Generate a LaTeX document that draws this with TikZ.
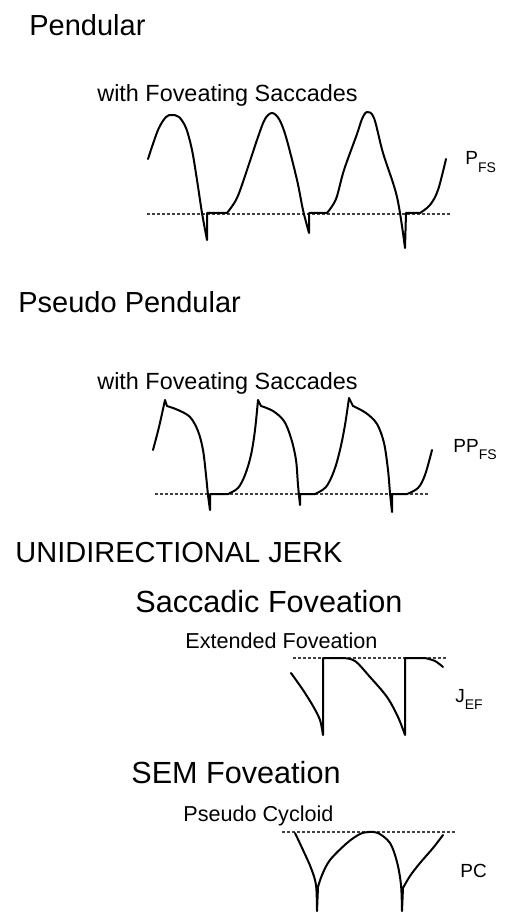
\documentclass[tikz,border=0pt]{standalone}
\usepackage{fontspec}
\setmainfont{Liberation Sans}
\usetikzlibrary{positioning}

\newcommand{\lowsub}[1]{\raisebox{-0.7ex}{\fontsize{7pt}{8pt}\selectfont #1}}

\begin{document}
\begin{tikzpicture}[
    x=0.5pt, y=-0.5pt,
    heading/.style={anchor=base west, inner sep=0pt, font=\fontsize{14.5pt}{16pt}\selectfont},
    subhead/.style={anchor=base west, inner sep=0pt, font=\fontsize{15.3pt}{17pt}\selectfont},
    caption/.style={anchor=base west, inner sep=0pt, font=\fontsize{11.7pt}{13pt}\selectfont},
    smallcap/.style={anchor=base west, inner sep=0pt, font=\fontsize{10.8pt}{12pt}\selectfont},
    tag/.style={anchor=base west, inner sep=0pt, font=\fontsize{9.5pt}{11pt}\selectfont},
    trace/.style={line width=1pt, line join=round, line cap=round},
    level/.style={line width=0.55pt, dash pattern=on 1.5pt off 1pt, black!75},
]
\useasboundingbox (0,0) rectangle (508,914);

%% TEXTS
    % pendular
    \node[heading] (pendular) at (29,36) {Pendular};
    \node[caption] (pend_fs) at (97,102) {with Foveating Saccades};
    \node[tag] (pfs) at (465,165) {P\lowsub{FS}};

    % pseudo pendular
    \node[heading] (pseudo_pendular) at (18,313) {Pseudo Pendular};
    \node[caption] (ppend_fs) at (97,389) {with Foveating Saccades};
    \node[tag] (ppfs) at (453,452) {PP\lowsub{FS}};

    % jerk
    \node[heading] (uni_jerk) at (15,562) {UNIDIRECTIONAL JERK};
    \node[subhead] (saccadic_fov) at (135,612) {Saccadic Foveation};
    \node[smallcap] (extended_fov) at (185,648) {Extended Foveation};
    \node[tag] (jef) at (455,702) {J\lowsub{EF}};

    \node[subhead] (sem_fov) at (131,783) {SEM Foveation};
    \node[smallcap] (pseudo_cycloid) at (183,821) {Pseudo Cycloid};
    \node[tag] (pc) at (460,877) {PC};

%% TRACES
    % pendular with foveating saccades
    \draw[level] (147,214) -- (452,214);
    \draw[trace] plot[smooth, tension=0.55] coordinates {(148,159) (158,130) (166,117) (172,115) (179,117) (186,128) (192,150) (197,180) (202,213) (207,240)}
        -- (207,213) -- (227,213)
        -- plot[smooth, tension=0.55] coordinates {(227,213) (237,198) (247,170) (258,137) (265,119) (272,113) (279,119) (286,137) (297,180) (303,210) (309,233)}
        -- (309,213) -- (327,213)
        -- plot[smooth, tension=0.55] coordinates {(327,213) (336,199) (344,170) (357,134) (362,119) (367,112) (374,118) (383,153) (397,197) (405,248)}
        -- (406,213) -- (420,213)
        -- plot[smooth, tension=0.55] coordinates {(420,213) (430,205) (438,190) (446,159)};

    % pseudo pendular with foveating saccades
    \draw[level] (155,494) -- (428,494);
    \draw[trace] plot[smooth, tension=0.55] coordinates {(153,450) (159,427) (165,400)}
        -- plot[smooth, tension=0.55] coordinates {(167,406) (178,410) (190,417) (198,431) (203,450) (206,475) (208,495) (210,510)}
        -- (210,494) -- (228,494)
        -- plot[smooth, tension=0.55] coordinates {(228,494) (238,488) (245,475) (251,455) (255,430) (258,400)}
        -- plot[smooth, tension=0.55] coordinates {(261,406) (273,411) (284,421) (291,438) (296,460) (298,485) (300,505)}
        -- (300,494) -- (315,494)
        -- plot[smooth, tension=0.55] coordinates {(315,494) (326,487) (334,471) (340,450) (345,425) (349,398)}
        -- plot[smooth, tension=0.55] coordinates {(353,406) (366,413) (377,424) (384,443) (388,470) (390,493) (392,512)}
        -- (392,494) -- (407,494)
        -- plot[smooth, tension=0.55] coordinates {(407,494) (418,488) (425,475) (432,450)};

    % extended foveation
    \draw[level] (293,658) -- (448,658);
    \draw[trace] plot[smooth, tension=0.55] coordinates {(291,673) (303,690) (313,706) (320,720) (323,735)}
        -- (323,658) -- (343,658)
        -- plot[smooth, tension=0.55] coordinates {(343,658) (355,661) (370,677) (387,697) (398,717) (405,735)}
        -- (405,658) -- (425,658)
        -- plot[smooth, tension=0.55] coordinates {(425,658) (435,661) (443,667)};

    % pseudo cycloid
    \draw[level] (282,832) -- (457,832);
    \draw[trace] plot[smooth, tension=0.55] coordinates {(295,833) (303,850) (311,868) (316,885) (317,911)}
        -- (318,887)
        -- plot[smooth, tension=0.55] coordinates {(318,887) (322,875) (330,860) (347,843) (360,834) (369,832) (378,833) (390,843) (397,862) (401,885) (402,911)}
        -- (403,888)
        -- plot[smooth, tension=0.55] coordinates {(403,888) (410,876) (420,863) (433,848) (443,835)};

\end{tikzpicture}
\end{document}
